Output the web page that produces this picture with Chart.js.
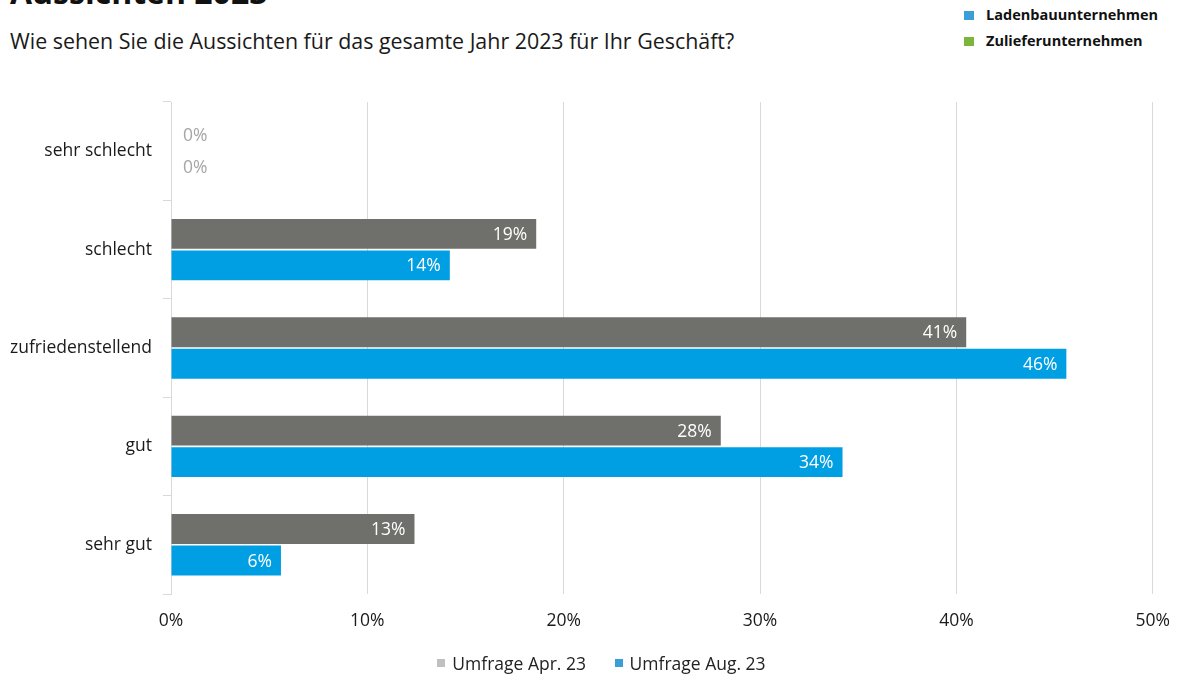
<!DOCTYPE html>
<html>
<head>
<meta charset="utf-8">
<script src="https://cdn.jsdelivr.net/npm/chart.js@4"></script>
<style>
  body { margin: 0; background: #fff; font-family: "Open Sans", sans-serif; }
  #wrap { position: relative; width: 1187px; height: 675px; overflow: hidden; }
  #title { position: absolute; left: 10px; top: -30px; font-size: 32px; font-weight: bold; color: #111; }
  #subtitle { position: absolute; left: 10px; top: 26px; font-size: 21.4px; color: #1a1a1a; }
  .tl { position: absolute; left: 964px; font-size: 14.5px; font-weight: bold; color: #111; }
  .tl span { display: inline-block; width: 10px; height: 9px; margin-right: 12px; }
  #legend { position: absolute; top: 651px; left: 8px; width: 1187px; text-align: center; font-size: 17.5px; color: #222; }
  #legend span.item { margin: 0 12px; }
  #legend i { display: inline-block; width: 8px; height: 8px; margin-right: 7px; vertical-align: 3px; }
  canvas { position: absolute; left: 0; top: 0; }
</style>
</head>
<body>
<div id="wrap">
  <div id="title">Aussichten 2023</div>
  <div id="subtitle">Wie sehen Sie die Aussichten für das gesamte Jahr 2023 für Ihr Geschäft?</div>
  <div class="tl" style="top:5px"><span style="background:#3a9fd8"></span>Ladenbauunternehmen</div>
  <div class="tl" style="top:31px"><span style="background:#7bb53c"></span>Zulieferunternehmen</div>
  <canvas id="myChart" width="1187" height="675"></canvas>
  <div id="legend">
    <span class="item"><i style="background:#c0c0c0"></i>Umfrage Apr. 23</span>
    <span class="item"><i style="background:#3a9fd8"></i>Umfrage Aug. 23</span>
  </div>
</div>
<script>
const categories = ['sehr schlecht', 'schlecht', 'zufriedenstellend', 'gut', 'sehr gut']
const aprValues = [0, 18.6, 40.5, 28.0, 12.4]
const augValues = [0, 14.2, 45.6, 34.2, 5.6]
const aprLabels = ['0%', '19%', '41%', '28%', '13%']
const augLabels = ['0%', '14%', '46%', '34%', '6%']
const xTicks = [0, 10, 20, 30, 40, 50]

const labelFont = '17.5px "Open Sans", sans-serif'

// draws the value text on or next to each bar
const barLabels = {
    id: 'barLabels',
    afterDatasetsDraw(chart) {
        const c = chart.ctx
        const area = chart.chartArea
        c.save()
        c.font = labelFont
        c.textBaseline = 'middle'
        chart.data.datasets.forEach((ds, i) => {
            chart.getDatasetMeta(i).data.forEach((bar, j) => {
                let text = ds.valueLabels[j]
                if (ds.data[j] > 0) {
                    c.fillStyle = '#fff'
                    c.textAlign = 'right'
                    c.fillText(text, bar.x - 9, bar.y + 1)
                } else {
                    c.fillStyle = '#a6a6a6'
                    c.textAlign = 'left'
                    c.fillText(text, area.left + 12, bar.y + 1)
                }
            })
        })
        c.restore()
    }
}

const ctx = document.getElementById('myChart')

new Chart(ctx, {
    type: 'bar',
    data: {
        labels: categories,
        datasets: [{
            label: 'Umfrage Apr. 23',
            data: aprValues,
            valueLabels: aprLabels,
            backgroundColor: '#6f6f6b',
            categoryPercentage: 0.64,
            barPercentage: 0.95
        }, {
            label: 'Umfrage Aug. 23',
            data: augValues,
            valueLabels: augLabels,
            backgroundColor: '#009fe3',
            categoryPercentage: 0.64,
            barPercentage: 0.95
        }]
    },
    options: {
        indexAxis: 'y',
        responsive: false,
        animation: false,
        layout: { padding: { top: 102, right: 33 } },
        plugins: {
            legend: { display: false },
            tooltip: { enabled: false }
        },
        scales: {
            x: {
                min: 0,
                max: 50,
                afterBuildTicks: scale => { scale.ticks = xTicks.map(v => ({ value: v })) },
                afterFit: scale => { scale.height = 81 },
                grid: { color: '#d9d9d9', drawTicks: false },
                border: { display: false },
                ticks: {
                    padding: 17,
                    color: '#1a1a1a',
                    font: { family: 'Open Sans', size: 17.5 },
                    callback: v => v + '%'
                }
            },
            y: {
                afterFit: scale => { scale.width = 171 },
                grid: { offset: true, drawOnChartArea: false, tickLength: 8, color: '#d9d9d9' },
                border: { color: '#d9d9d9' },
                ticks: {
                    padding: 11,
                    color: '#1a1a1a',
                    font: { family: 'Open Sans', size: 17.5 }
                }
            }
        }
    },
    plugins: [barLabels]
})
</script>
</body>
</html>
